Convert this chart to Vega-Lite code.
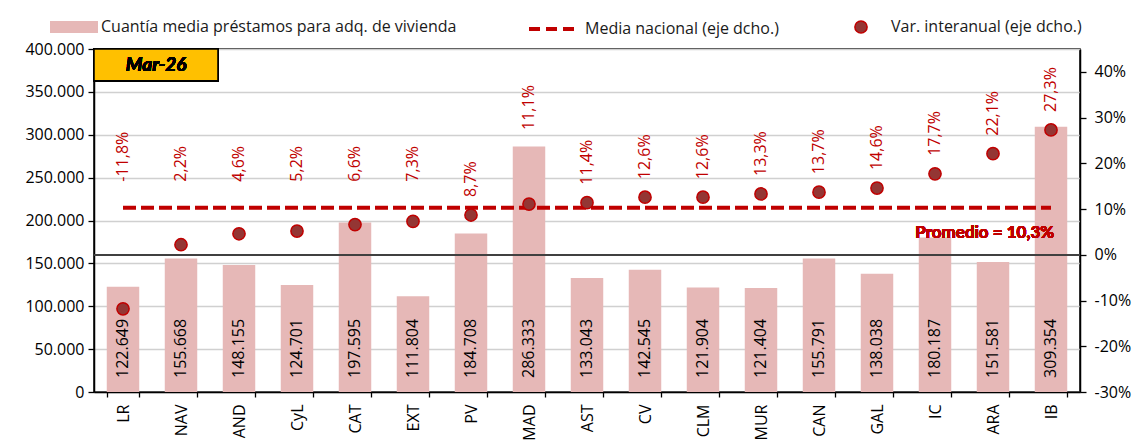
{
  "$schema": "https://vega.github.io/schema/vega-lite/v6.json",
  "width": 986,
  "height": 343,
  "autosize": {"type": "none"},
  "padding": {"left": 94, "top": 49, "right": 65, "bottom": 51},
  "background": "white",
  "config": {
    "locale": {"number": {"decimal": ",", "thousands": ".", "grouping": [3], "currency": ["", " €"], "minus": "-"}},
    "font": "Open Sans",
    "view": {"stroke": "#000000", "strokeWidth": 1.5},
    "axis": {"labelFont": "Open Sans", "labelFontSize": 16, "labelColor": "#000000", "domainColor": "#000000", "domainWidth": 1.5, "tickColor": "#000000", "tickWidth": 1.3},
    "legend": {"labelFont": "Open Sans", "labelFontSize": 16, "labelColor": "#1a1a1a", "padding": 0, "title": null, "labelLimit": 0}
  },
  "data": {"values": [
    {"region": "LR", "amount": 122649, "var": -0.118},
    {"region": "NAV", "amount": 155668, "var": 0.022},
    {"region": "AND", "amount": 148155, "var": 0.046},
    {"region": "CyL", "amount": 124701, "var": 0.052},
    {"region": "CAT", "amount": 197595, "var": 0.066},
    {"region": "EXT", "amount": 111804, "var": 0.073},
    {"region": "PV", "amount": 184708, "var": 0.087},
    {"region": "MAD", "amount": 286333, "var": 0.111},
    {"region": "AST", "amount": 133043, "var": 0.114},
    {"region": "CV", "amount": 142545, "var": 0.126},
    {"region": "CLM", "amount": 121904, "var": 0.126},
    {"region": "MUR", "amount": 121404, "var": 0.133},
    {"region": "CAN", "amount": 155791, "var": 0.137},
    {"region": "GAL", "amount": 138038, "var": 0.146},
    {"region": "IC", "amount": 180187, "var": 0.177},
    {"region": "ARA", "amount": 151581, "var": 0.221},
    {"region": "IB", "amount": 309354, "var": 0.273}
  ]},
  "encoding": {
    "x": {
      "field": "region", "type": "nominal", "sort": null,
      "scale": {"paddingInner": 0.44, "paddingOuter": 0.22},
      "axis": {"title": null, "labelAngle": 270, "labelAlign": "right", "labelBaseline": "middle", "tickBand": "extent", "tickSize": 5, "labelPadding": 7, "grid": false}
    }
  },
  "layer": [
    {
      "layer": [
        {
          "mark": {"type": "bar", "opacity": 1},
          "encoding": {
            "y": {"field": "amount", "type": "quantitative", "scale": {"domain": [0, 400000], "nice": false},
              "axis": {"orient": "left", "title": null, "values": [0, 50000, 100000, 150000, 200000, 250000, 300000, 350000, 400000], "format": ",.0f", "grid": true, "gridColor": "#D0D0D0", "gridWidth": 1.3, "tickSize": 6, "labelPadding": 4}},
            "color": {"datum": "Cuantía media préstamos para adq. de vivienda", "type": "nominal",
              "scale": {"range": ["#E6B8B7"]},
              "legend": {"orient": "none", "legendX": -28, "legendY": -30, "symbolType": "M-4,-1H4V1H-4Z", "symbolSize": 144, "symbolStrokeWidth": 0, "labelOffset": 19, "symbolOpacity": 1}}
          }
        },
        {
          "mark": {"type": "text", "angle": 270, "align": "left", "baseline": "middle", "fontSize": 16, "fill": "#000000", "dx": 14},
          "encoding": {
            "y": {"datum": 0, "type": "quantitative"},
            "text": {"field": "amount", "type": "quantitative", "format": ",.0f"}
          }
        },
        {
          "mark": {"type": "rect", "fill": "#FFC000", "stroke": "#000000", "strokeWidth": 1.3},
          "encoding": {
            "x": {"datum": "LR", "bandPosition": -0.39},
            "x2": {"datum": "AND", "bandPosition": -0.15},
            "y": {"datum": 400000, "type": "quantitative"},
            "y2": {"datum": 363000}
          }
        },
        {
          "mark": {"type": "text", "font": "Lato", "fontSize": 19, "fontWeight": "bold", "fontStyle": "italic", "align": "center", "baseline": "middle", "fill": "#000000"},
          "encoding": {
            "x": {"datum": "LR", "bandPosition": 1.52},
            "y": {"datum": 381000, "type": "quantitative"},
            "text": {"value": "Mar-26"}
          }
        }
      ]
    },
    {
      "layer": [
        {
          "mark": {"type": "rule", "color": "#404040", "strokeWidth": 1.5},
          "encoding": {
            "x": null,
            "y": {"datum": 0, "type": "quantitative", "scale": {"domain": [-0.3, 0.45], "nice": false},
              "axis": {"orient": "right", "title": null, "values": [-0.3, -0.2, -0.1, 0, 0.1, 0.2, 0.3, 0.4], "format": ".0%", "grid": false, "tickSize": 6, "labelPadding": 8}}
          }
        },
        {
          "mark": {"type": "line", "strokeWidth": 4, "strokeDash": [13, 5]},
          "encoding": {
            "y": {"datum": 0.103, "type": "quantitative"},
            "stroke": {"datum": "Media nacional (eje dcho.)", "type": "nominal",
              "scale": {"range": ["#C00000"]},
              "legend": {"orient": "none", "legendX": 433, "legendY": -45, "symbolType": "stroke", "symbolSize": 2116, "symbolStrokeWidth": 4, "symbolDash": [11, 6], "labelOffset": 8}}
          }
        },
        {
          "mark": {"type": "point", "filled": true, "stroke": "#C00000", "strokeWidth": 1.5, "size": 150, "opacity": 1},
          "encoding": {
            "y": {"field": "var", "type": "quantitative"},
            "fill": {"datum": "Var. interanual (eje dcho.)", "type": "nominal",
              "scale": {"range": ["#943634"]},
              "legend": {"orient": "none", "legendX": 759, "legendY": -30, "symbolType": "circle", "symbolSize": 150, "symbolStrokeColor": "#C00000", "symbolStrokeWidth": 1.5, "labelOffset": 22, "symbolOpacity": 1}}
          }
        },
        {
          "transform": [{"filter": "datum.var < 0.08"}],
          "mark": {"type": "text", "angle": 270, "align": "left", "baseline": "middle", "fontSize": 16, "fill": "#C00000"},
          "encoding": {
            "y": {"datum": 0.16, "type": "quantitative"},
            "text": {"field": "var", "type": "quantitative", "format": ".1%"}
          }
        },
        {
          "transform": [{"filter": "datum.var >= 0.08 && datum.region != 'MAD'"}],
          "mark": {"type": "text", "angle": 270, "align": "left", "baseline": "middle", "fontSize": 16, "fill": "#C00000", "dx": 18},
          "encoding": {
            "y": {"field": "var", "type": "quantitative"},
            "text": {"field": "var", "type": "quantitative", "format": ".1%"}
          }
        },
        {
          "transform": [{"filter": "datum.region == 'MAD'"}],
          "mark": {"type": "text", "angle": 270, "align": "left", "baseline": "middle", "fontSize": 16, "fill": "#C00000"},
          "encoding": {
            "y": {"datum": 0.273, "type": "quantitative"},
            "text": {"field": "var", "type": "quantitative", "format": ".1%"}
          }
        },
        {
          "mark": {"type": "text", "font": "Lato", "align": "right", "baseline": "middle", "fontSize": 17, "fontWeight": "bold", "fill": "#C00000"},
          "encoding": {
            "x": {"datum": "IB", "bandPosition": 0.6},
            "y": {"datum": 0.048, "type": "quantitative"},
            "text": {"value": "Promedio = 10,3%"}
          }
        }
      ]
    }
  ],
  "resolve": {"scale": {"y": "independent"}}
}
